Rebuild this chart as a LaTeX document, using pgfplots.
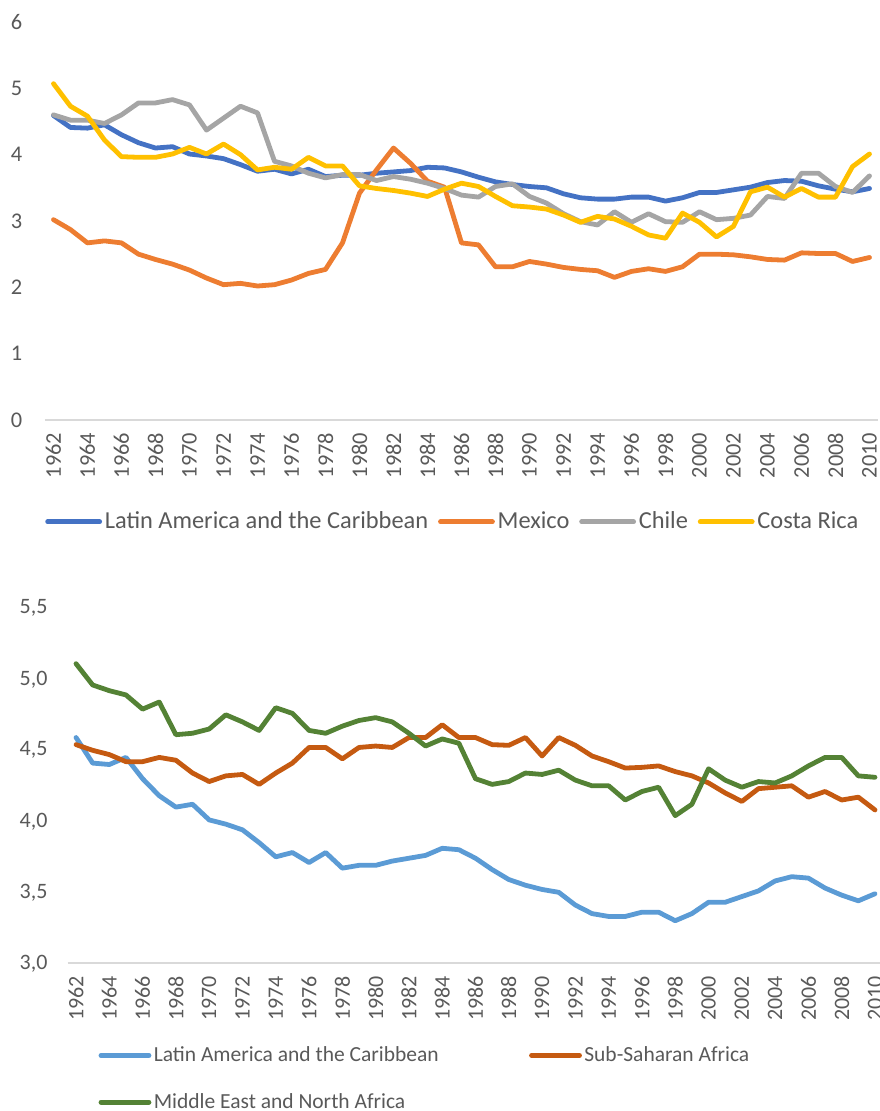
\documentclass[border=0pt]{standalone}
\usepackage{fontspec}
\setmainfont{Carlito}
\usepackage{pgfplots}
\usepackage{pgfplotstable}
\pgfplotsset{compat=1.18}

\definecolor{lacblue}{HTML}{4472C4}
\definecolor{mexorange}{HTML}{ED7D31}
\definecolor{chilegray}{HTML}{A5A5A5}
\definecolor{crgold}{HTML}{FFC000}
\definecolor{lacsky}{HTML}{5B9BD5}
\definecolor{ssarust}{HTML}{C55A11}
\definecolor{menagreen}{HTML}{548235}
\definecolor{ticktext}{HTML}{595959}
\definecolor{axisgray}{HTML}{D9D9D9}

% top chart: Latin America vs three countries
\pgfplotstableread{
year lac mex chl cri
1962 4.59 3.02 4.60 5.07
1963 4.41 2.87 4.52 4.73
1964 4.40 2.67 4.52 4.58
1965 4.45 2.70 4.47 4.22
1966 4.30 2.67 4.60 3.97
1967 4.18 2.50 4.78 3.96
1968 4.10 2.42 4.78 3.96
1969 4.12 2.35 4.83 4.01
1970 4.01 2.26 4.75 4.11
1971 3.98 2.14 4.37 4.01
1972 3.94 2.04 4.55 4.16
1973 3.85 2.06 4.73 4.00
1974 3.75 2.02 4.63 3.77
1975 3.78 2.04 3.90 3.81
1976 3.71 2.11 3.83 3.78
1977 3.78 2.21 3.72 3.96
1978 3.67 2.27 3.65 3.83
1979 3.69 2.67 3.70 3.83
1980 3.69 3.42 3.70 3.53
1981 3.72 3.77 3.61 3.49
1982 3.74 4.10 3.67 3.46
1983 3.76 3.87 3.63 3.42
1984 3.81 3.60 3.57 3.37
1985 3.80 3.51 3.49 3.48
1986 3.74 2.67 3.39 3.57
1987 3.66 2.64 3.36 3.52
1988 3.59 2.31 3.52 3.37
1989 3.55 2.31 3.56 3.23
1990 3.52 2.39 3.37 3.21
1991 3.50 2.35 3.27 3.18
1992 3.41 2.30 3.11 3.09
1993 3.35 2.27 2.99 2.98
1994 3.33 2.25 2.94 3.07
1995 3.33 2.15 3.14 3.03
1996 3.36 2.24 2.98 2.92
1997 3.36 2.28 3.11 2.79
1998 3.30 2.24 2.99 2.74
1999 3.35 2.31 2.98 3.12
2000 3.43 2.50 3.14 2.98
2001 3.43 2.50 3.02 2.76
2002 3.47 2.49 3.04 2.92
2003 3.51 2.46 3.09 3.44
2004 3.58 2.42 3.37 3.51
2005 3.61 2.41 3.34 3.36
2006 3.60 2.52 3.72 3.49
2007 3.53 2.51 3.72 3.36
2008 3.48 2.51 3.52 3.36
2009 3.44 2.39 3.43 3.82
2010 3.49 2.45 3.68 4.01
}\countrydata

% bottom chart: regions
\pgfplotstableread{
year lac ssa mena
1962 4.59 4.54 5.11
1963 4.41 4.50 4.96
1964 4.40 4.47 4.92
1965 4.45 4.42 4.89
1966 4.30 4.42 4.79
1967 4.18 4.45 4.84
1968 4.10 4.43 4.61
1969 4.12 4.34 4.62
1970 4.01 4.28 4.65
1971 3.98 4.32 4.75
1972 3.94 4.33 4.70
1973 3.85 4.26 4.64
1974 3.75 4.34 4.80
1975 3.78 4.41 4.76
1976 3.71 4.52 4.64
1977 3.78 4.52 4.62
1978 3.67 4.44 4.67
1979 3.69 4.52 4.71
1980 3.69 4.53 4.73
1981 3.72 4.52 4.70
1982 3.74 4.59 4.62
1983 3.76 4.59 4.53
1984 3.81 4.68 4.58
1985 3.80 4.59 4.55
1986 3.74 4.59 4.30
1987 3.66 4.54 4.26
1988 3.59 4.535 4.28
1989 3.55 4.59 4.34
1990 3.52 4.46 4.33
1991 3.50 4.59 4.36
1992 3.41 4.535 4.29
1993 3.35 4.46 4.25
1994 3.33 4.42 4.25
1995 3.33 4.375 4.15
1996 3.36 4.38 4.21
1997 3.36 4.39 4.24
1998 3.30 4.35 4.04
1999 3.35 4.32 4.12
2000 3.43 4.27 4.37
2001 3.43 4.20 4.29
2002 3.47 4.14 4.24
2003 3.51 4.23 4.28
2004 3.58 4.24 4.27
2005 3.61 4.25 4.32
2006 3.60 4.17 4.39
2007 3.53 4.21 4.45
2008 3.48 4.15 4.45
2009 3.44 4.17 4.32
2010 3.49 4.08 4.31
}\regiondata

\pgfplotsset{
  excel/.style={
    scale only axis,
    xmin=1961.5, xmax=2010.5,
    xtick={1962,1964,...,2010},
    axis x line*=bottom, axis y line*=left,
    x axis line style={draw=axisgray, line width=1pt, -},
    y axis line style={draw=none},
    major tick length=0pt,
    tick style={draw=none},
    tick label style={text=ticktext, font=\fontsize{11.2pt}{13pt}\selectfont},
    /pgf/number format/assume math mode=true,
    xticklabel style={rotate=90, anchor=east, /pgf/number format/1000 sep={}},
    xticklabel shift=2.8pt,
    legend image code/.code={\draw[#1] (0pt,0pt) -- (26pt,0pt);},
    legend cell align=left,
    every axis plot/.append style={line width=2.4pt, line join=round, line cap=round},
  },
}

\begin{document}
\begin{tikzpicture}
\begin{axis}[excel,
  at={(22.5pt,-210pt)}, anchor=south west,
  width=416.5pt, height=199pt,
  ymin=0, ymax=6, ytick={0,1,...,6},
  yticklabel shift=7.8pt,
  legend columns=4,
  legend style={draw=none, fill=none, at={(axis description cs:0.49,-0.256)}, anchor=center,
    font=\fontsize{12.2pt}{14pt}\selectfont, text=ticktext,
    nodes={inner sep=1.4pt},
    /tikz/every even column/.append style={column sep=3.5pt}},
]
\addplot[lacblue] table[x=year, y=lac] {\countrydata};
\addplot[mexorange] table[x=year, y=mex] {\countrydata};
\addplot[chilegray] table[x=year, y=chl] {\countrydata};
\addplot[crgold] table[x=year, y=cri] {\countrydata};
\legend{Latin America and the Caribbean, Mexico, Chile, Costa Rica}
\end{axis}

\begin{axis}[excel,
  at={(33.85pt,-481.65pt)}, anchor=south west,
  width=407.8pt, height=177.5pt,
  ymin=3, ymax=5.5, ytick={3,3.5,...,5.5},
  yticklabel style={/pgf/number format/.cd, use comma, fixed, fixed zerofill, precision=1},
  yticklabel shift=6.6pt,
  tick label style={font=\fontsize{11pt}{13pt}\selectfont},
  legend columns=2,
  legend style={draw=none, fill=none, at={(axis description cs:0.03,-0.215)}, anchor=north west,
    font=\fontsize{10.75pt}{13pt}\selectfont, text=ticktext,
    nodes={inner sep=1.2pt}, row sep=12pt,
    /tikz/every even column/.append style={column sep=44pt}},
  legend image code/.code={\draw[#1] (0pt,0pt) -- (24pt,0pt);},
]
\addplot[lacsky] table[x=year, y=lac] {\regiondata};
\addplot[ssarust] table[x=year, y=ssa] {\regiondata};
\addplot[menagreen] table[x=year, y=mena] {\regiondata};
\legend{Latin America and the Caribbean, Sub-Saharan Africa, Middle East and North Africa}
\end{axis}

\pgfresetboundingbox
\useasboundingbox (0pt,0pt) rectangle (439.5pt,-555.5pt);
\end{tikzpicture}
\end{document}
